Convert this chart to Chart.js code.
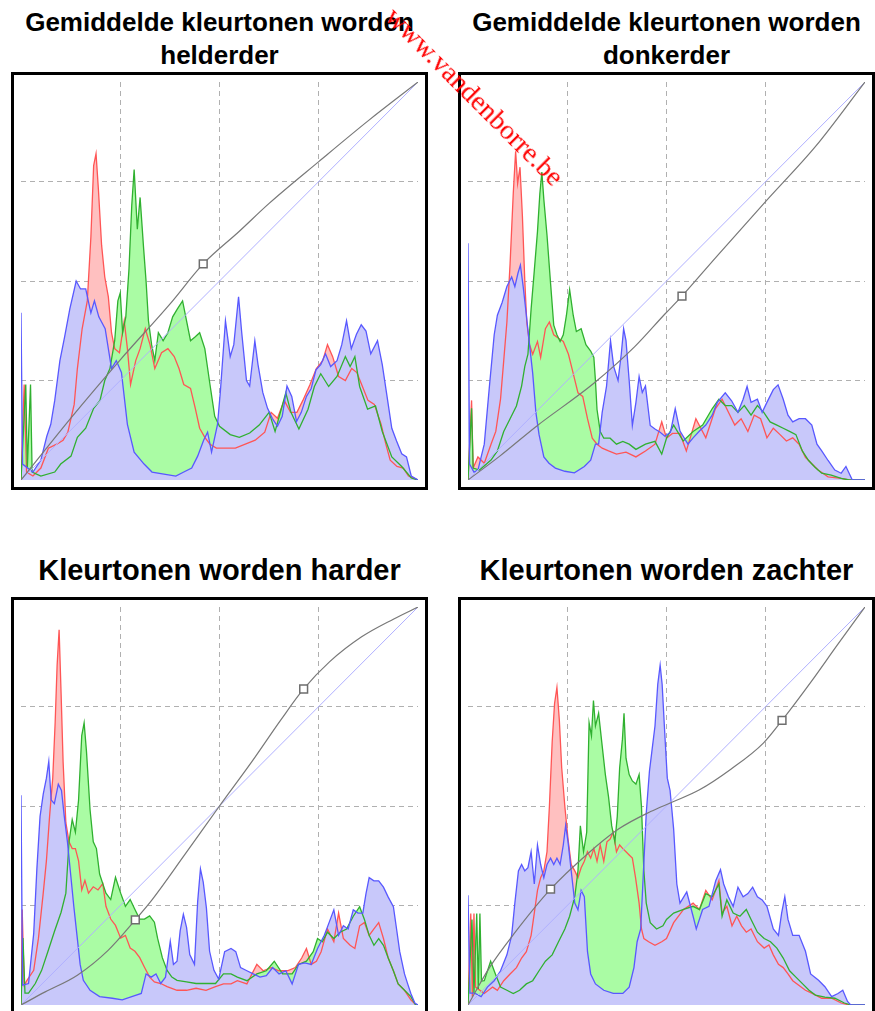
<!DOCTYPE html>
<html>
<head>
<meta charset="utf-8">
<script src="https://cdn.jsdelivr.net/npm/chart.js@4.4.1/dist/chart.umd.min.js"></script>
<style>
  html, body { margin: 0; padding: 0; background: #fff; overflow: hidden; }
  body { width: 875px; height: 1011px; position: relative; font-family: "Liberation Sans", Arial, sans-serif; }
  .titel { position: absolute; width: 417px; text-align: center; font-weight: bold; font-size: 26px; line-height: 33px; color: #000; }
  .titel.groot { font-size: 29px; }
  .kader { position: absolute; border: 3px solid #000; width: 411px; height: 412px; }
  .kader canvas { display: block; }
  .watermerk { position: absolute; left: 390px; top: -4px; z-index: 5; font-family: "Liberation Serif", "Times New Roman", serif;
               font-size: 28px; color: #f00; white-space: nowrap; transform-origin: 0 50%; transform: rotate(45deg); }
</style>
</head>
<body>

<div class="titel" style="left:11px; top:6px">Gemiddelde kleurtonen worden<br>helderder</div>
<div class="titel" style="left:458px; top:6px">Gemiddelde kleurtonen worden<br>donkerder</div>
<div class="titel groot" style="left:11px; top:554px">Kleurtonen worden harder</div>
<div class="titel groot" style="left:458px; top:554px">Kleurtonen worden zachter</div>

<div class="kader" style="left:11px; top:72px"><canvas id="grafiek1" width="411" height="412"></canvas></div>
<div class="kader" style="left:458px; top:72px"><canvas id="grafiek2" width="411" height="412"></canvas></div>
<div class="kader" style="left:11px; top:597px"><canvas id="grafiek3" width="411" height="412"></canvas></div>
<div class="kader" style="left:458px; top:597px"><canvas id="grafiek4" width="411" height="412"></canvas></div>

<div class="watermerk">www.vandenborre.be</div>

<script>
// Histogrammen: [toonwaarde %, hoogte %]
const p1Red = [[0,0],[0.8,24],[1.4,2],[3,1],[5,3],[6.9,8],[9,9],[10.6,10],[11.8,12],[13.4,19],[14.2,28],[15.4,38],[16.7,45],[17.6,61],[18.3,79],[18.9,82],[19.5,73],[20.3,59],[21.1,51],[22,46],[22.8,37],[23.6,33],[24.8,32],[26,40],[26.8,33],[27.6,24],[28.9,30],[30,33],[31.3,38],[32.5,34],[33.7,28],[35.4,32],[37,33],[38.6,31],[39.8,28],[41,24],[42.7,23],[43.9,18],[45,13],[46.3,10.7],[47.6,9],[49.2,8],[51.6,8],[54,8],[56.5,9],[59,10],[61.4,12],[63,17],[64.6,15.5],[66.3,20],[67.9,17],[69.5,17],[71,20],[72.8,24],[74.4,28],[76,30],[77.2,34],[78.5,31],[80,26],[81.7,25],[83.3,28],[84.6,27],[85.8,24],[87.4,20],[89,19],[90.7,14],[91.9,9],[93,5],[94.7,3.4],[96.3,3],[97.6,1],[100,0]];
const p1Green = [[0,0],[1.2,24],[1.6,3],[2.4,24],[2.8,2],[5,1],[8.5,2],[10,4],[12.6,6],[14.2,10.7],[16.3,13],[18.3,18],[19.9,20],[21.1,25],[22.4,28],[23.6,35],[24.4,45],[25,47],[25.6,37],[26.4,41],[27.2,53],[27.9,69],[28.5,78],[29.3,63],[30,71],[30.9,58],[31.5,50],[32.1,40],[32.9,34],[33.7,30],[34.6,37],[35.8,35],[37,37],[38.2,41],[39.4,43],[40.7,45],[41.5,41],[42.7,35],[43.9,36],[45,37],[46.3,33],[47.6,24],[48.8,16],[50,13.5],[52.7,11.4],[55,10.7],[57.6,11.8],[60,13.8],[62.5,17],[64,12.2],[66.7,21.9],[68,17],[70,12.8],[72.3,17.8],[73.9,23.5],[75.5,26.7],[77.5,23.5],[79.6,26],[81.7,31],[82.9,28.5],[84.1,31],[85.3,23.5],[87.3,17.8],[89.3,18.6],[91,12.2],[93.4,5.8],[95.9,3.4],[98.3,0.5],[100,0]];
const p1Blue = [[0,42],[0.4,4],[3,2],[5,5],[6.5,11],[7.5,14],[8.5,20],[9.8,30],[11,36],[12.3,43],[13.9,50],[15,48],[16.3,48],[17.6,42],[18.5,45],[19.6,41],[21.2,38],[22.8,28],[24,30],[25.3,27],[26.8,14],[28.5,7],[31,4],[33,2],[36,1.5],[39,1],[41,2],[43,3],[44.5,6],[46,10],[47,12],[48,7],[49.5,14],[50.2,22],[51.5,40],[52.7,31],[53.6,34],[54.8,46],[55.6,37],[56.8,25],[57.6,23.6],[58.9,35],[59.7,29],[60.9,22],[62.1,18],[63.3,15.5],[64.6,13.5],[65.8,16],[67,23.6],[68.2,21],[69.4,14.7],[70.6,17],[71.9,21],[73.1,23],[74.3,27.7],[75.5,29],[76.7,31.7],[78,28.5],[79.6,30],[80.8,34],[82,40],[83.2,33],[84.5,36.6],[85.7,39],[86.9,37.4],[88.1,31.7],[89.8,35],[91,29],[92.2,21],[93.4,13],[94.6,9.8],[95.9,6.6],[97.1,5.8],[98.3,1],[100,0]];
const p1Curve = [[0,0],[12.5,15.5],[25,30.2],[37.5,44.2],[45.9,54.3],[55,62.5],[62.5,69.5],[75,80],[87.5,90.3],[100,100]];
const p1Handles = [[45.9,54.3]];

const p2Red = [[0,0],[0.9,20],[1.3,3],[2.5,5.8],[4.1,4.2],[5.8,9],[7,12.2],[8.2,20.4],[9,30],[9.8,39.7],[10.6,54.3],[11.4,72],[12,82.6],[12.5,74.5],[13.1,78.6],[13.7,66.4],[14.3,50.2],[14.8,39.7],[15.5,34],[16.3,31.6],[17.5,34.8],[18.3,30.8],[19.5,38],[20.5,39.7],[21.6,36.5],[22.8,35.6],[24,34.8],[25.3,31.6],[26.5,26.8],[27.7,21.9],[28.9,21],[30.1,15.4],[31.3,10.5],[32.5,9],[33.8,8],[35.4,7.3],[37.4,6.5],[39.8,7],[42.3,5.8],[44.7,7.3],[47.1,9],[48.8,14.6],[50,10.5],[51.5,11.7],[53.4,11.7],[55,7.3],[57.4,15.4],[59.9,10.6],[62.3,17.9],[64,20.3],[65.6,17],[67.2,13.8],[68.8,15.4],[70.5,12.2],[72.1,16.3],[73.7,15.4],[75.3,10.6],[76.9,13],[78.6,11.4],[80.2,9.8],[81.8,10.6],[83.4,9],[85,5.7],[86.6,4.1],[88.2,2.5],[90.7,0.8],[94,0.4],[96,0],[100,0]];
const p2Green = [[0,0],[0.9,18],[1.3,3],[2.9,2.5],[5.8,5],[7.4,7.3],[9,12.2],[10.6,15.4],[12.2,18.6],[13.5,23.6],[14.3,28.5],[15.1,31.6],[15.9,43],[16.7,52.6],[17.5,62.4],[18.1,72],[18.6,77.4],[19.1,70.5],[19.9,61.5],[20.8,49.4],[21.6,38.9],[22.4,36.5],[23.2,34.8],[24,36.5],[24.8,41.4],[25.6,47.8],[26.5,41.4],[27.3,37.3],[28.5,38],[29.7,34],[30.9,32.4],[31.7,30.8],[32.1,25],[32.5,17.7],[33.3,12.2],[34.2,10.5],[35.8,10.5],[37.4,9],[39,9.7],[40.6,9],[42.3,7.7],[44.7,9],[47.1,9.7],[48.8,6.5],[50,10.5],[51.8,13.8],[54.2,9.8],[56.7,12.2],[59.1,13.8],[61.5,17.9],[63.2,20.3],[64.8,18.7],[66.4,18.7],[68,17],[69.6,18.7],[71.3,16.3],[72.9,18.7],[74.5,17],[76.1,14.6],[77.8,13.8],[79.4,13],[81,12.2],[82.6,11.4],[84.2,7.3],[85.8,4.9],[87.4,3.2],[89.1,1.7],[91.5,1.2],[94,0.4],[96,0],[100,0]];
const p2Blue = [[0,59.5],[0.4,4],[1.5,2],[2.5,2.5],[4.1,9],[5.4,23.6],[6.6,36.5],[7.4,41.4],[8.6,44.6],[9.8,48.6],[11,51],[11.8,48.6],[12.6,52],[13.2,54],[13.9,48.6],[14.7,41.4],[15.5,34],[16.3,26.8],[17.1,17],[17.9,11.4],[19.1,5.8],[20.4,4.2],[22,3],[24.4,2.2],[26.8,1.8],[29.3,3.4],[30.9,5],[32.1,9],[32.9,9],[33.8,17],[34.9,23.6],[35.9,35],[36.7,28.5],[37.8,25],[38.6,31.6],[39.2,38],[39.8,35],[40.6,25],[41.4,13.7],[42.3,19.5],[43.1,26],[43.9,22],[44.7,23.6],[45.9,13.7],[47.1,12.8],[48.4,12],[49.6,11],[51,12],[52.2,17.9],[53.4,12.3],[55.4,9],[56.7,10.6],[58.3,12.3],[59.9,13.8],[61.5,16.3],[62.8,19.5],[64.8,21.9],[66.4,19.9],[68,17],[69.3,20.3],[70.3,23.5],[71.3,19.5],[72.9,20.3],[74.1,17],[75.3,19.5],[76.9,22.7],[78.1,23.9],[79.4,20.3],[80.6,16.3],[81.8,14.6],[83.4,15.4],[85,15.4],[86.6,13.8],[87.9,9],[89.1,7.3],[90.7,4.9],[92.4,2.5],[94,1.7],[95.2,3.4],[96.8,0],[100,0]];
const p2Curve = [[0,0],[8,6],[17.1,13.4],[31.7,24.3],[42,33.5],[49.6,41.7],[53.9,46.2],[62.5,56],[75,70],[87.7,84],[100,100]];
const p2Handles = [[53.9,46.2]];

const p3Red = [[0,0],[0.3,24],[0.8,5],[1.5,6.2],[3.2,8.7],[4.4,16.8],[5.6,28.1],[6.4,36.2],[7.2,47.4],[8,57.1],[8.6,70.9],[9.1,85.4],[9.6,94.3],[10.1,78.2],[10.6,61.2],[11.3,45.8],[12.1,41],[12.9,39.3],[13.7,39.3],[14.5,36.2],[15.3,28.9],[16.1,31.3],[17,28.1],[18.2,29.7],[19.4,28.9],[20.6,30.5],[21.4,24.8],[22.6,21.6],[23.8,20],[25.1,16.8],[26.3,17.5],[27.5,14.3],[28.7,13.5],[29.9,11.9],[31.1,9.5],[32.4,7],[33.6,5.8],[35.2,5.4],[36.8,4.6],[39.3,3.7],[41.7,3.7],[44.1,4.2],[46.6,3.7],[49,4.6],[51,5.3],[52.9,5.3],[54.5,6.1],[56.9,5.3],[59.4,10.2],[61,8.6],[63,9.4],[65,8.6],[67.1,8.6],[69.1,9.4],[70.7,11.8],[71.9,14.2],[73.1,10.2],[74.4,11],[75.6,13.4],[77.2,19.1],[78.8,15.9],[80,23.1],[81.2,16.7],[82.9,15],[84.1,14.2],[85.3,19.9],[86.5,20.7],[87.7,17.5],[88.9,19.1],[90.1,20.7],[91.3,16.7],[92.5,11.8],[93.8,8.6],[95,5.3],[96.6,3.7],[98.2,1.3],[99.5,0],[100,0]];
const p3Green = [[0,0],[0.5,16.8],[1,3],[1.9,3],[3.6,5.4],[5.2,8.7],[6.8,13.5],[8.4,18.4],[10.1,23.3],[11.3,28.1],[12.1,41],[12.9,46.6],[13.7,43.4],[14.5,51.5],[15.3,67.7],[15.9,70.9],[16.5,63.6],[17.4,49],[18.2,41],[19,39.3],[19.8,32.9],[20.6,30.5],[21.4,28.1],[22.6,26.5],[23.8,32.1],[25.1,28.1],[26.3,24.8],[27.5,26.5],[28.7,24],[29.9,21.6],[31.1,21.6],[32.4,22.4],[33.6,20.8],[34.4,16.8],[35.6,11.9],[36.8,8.7],[38,7],[39.3,6.2],[41.7,5.8],[44.1,5.4],[46.6,5.4],[49,5.4],[51,7.8],[52.9,7.8],[54.5,7],[56.9,6.1],[59.4,7.8],[61.8,8.6],[63.8,11],[65.9,7.8],[68.3,7.8],[69.9,10.2],[71.9,11],[73.6,13.4],[74.7,16.7],[75.9,15.9],[77.2,18.3],[78.8,16.7],[80.4,18.3],[82,19.1],[83.7,22.3],[85.3,24.7],[86.5,21.5],[87.7,17.5],[88.9,15],[90.1,16.7],[91.3,15],[92.5,11.8],[93.8,8.6],[95,5.3],[96.6,3.7],[98.2,2.1],[99.4,0],[100,0]];
const p3Blue = [[0,52.7],[0.4,5],[1.9,5.4],[3.2,18],[4,34.2],[4.8,47.4],[5.6,53],[6.4,57],[7,61.2],[7.6,51.5],[8.4,50.6],[9.4,55.5],[10.2,53.9],[10.9,47.4],[11.7,41],[12.5,32.9],[13.3,24.8],[14.1,17.5],[14.9,10.2],[15.7,6.2],[17.4,3.7],[19.8,2.1],[23,1.7],[25.5,1.3],[27.9,2.1],[30.3,2.9],[31.5,7.8],[32.8,7],[34,7.8],[35.2,5.4],[36.4,7],[37.6,16],[38.4,10.2],[39.3,11],[40.1,18.7],[40.9,22.8],[41.7,19.5],[42.5,12.7],[43.7,10.2],[44.5,26],[45.2,34.2],[45.9,30.9],[46.7,24.4],[47.5,13.5],[48.6,8.7],[49.8,6.5],[51.3,13.4],[52.9,14.2],[54.1,13.4],[55.3,9.4],[56.9,8.6],[58.5,7.8],[60.2,7],[61.8,7.4],[63.4,9.4],[65,7.8],[66.7,8.6],[68.3,5.3],[69.9,10.2],[71.5,10.6],[73.1,10.2],[74.7,14.2],[76.4,17.5],[77.6,20.7],[78.8,23.9],[80,17.5],[81.2,19.9],[82.4,19.1],[83.7,23.9],[84.9,23.1],[86.1,23.1],[86.9,28],[87.7,32],[88.9,31.2],[90.1,31.2],[91.3,29.6],[92.5,27.1],[93.8,24.7],[94.6,19.1],[95.4,13.4],[96.6,7.8],[97.4,5.3],[98.2,2.9],[99.2,0.5],[100,0]];
const p3Curve = [[0,0],[6.1,3.3],[14.2,7.5],[22,13.8],[28.8,21.4],[33,26.4],[41.2,37.7],[50,50],[58.2,61.2],[65.5,71.7],[71.2,79.4],[77.7,86.2],[85.8,92.5],[93.9,97],[100,100]];
const p3Handles = [[28.8,21.4],[71.2,79.4]];

const p4Red = [[0,0],[0.7,23],[1.1,2],[1.5,23],[1.9,4.5],[4.1,2.9],[6.2,4.5],[7.4,3.7],[9,6.1],[10.6,7.8],[12.2,9.4],[13.5,11.8],[14.7,13.4],[15.9,17.5],[16.7,23.1],[17.5,28.8],[18.3,32],[19.1,33.7],[19.9,38.5],[20.5,49.8],[21.2,66],[21.8,75.7],[22.4,79.8],[23,71.7],[23.6,59.6],[24.4,49.8],[25.2,41.7],[26,35.3],[26.9,33.7],[27.7,32],[28.5,34.5],[29.3,36.1],[30.1,38.5],[30.9,36.9],[31.7,39.3],[32.5,36.1],[33.3,40.2],[34.2,36.1],[35,41],[35.8,41.7],[36.6,43.4],[37.4,38.5],[38.2,40.2],[39,39.3],[39.8,38.5],[40.6,37.7],[41.4,36.9],[42.2,32],[43.1,25.6],[43.7,19.1],[44.3,16.7],[45.5,15.9],[47.1,15],[48.8,15.9],[50,16.7],[51.8,20.7],[54.3,24],[56.7,25.6],[58.3,24],[59.9,28.8],[61.5,26.4],[63.2,31.2],[64,23.1],[65.2,24.8],[66.5,19.9],[67.7,22.3],[68.9,19.9],[70.1,18.3],[71.3,19.1],[72.9,15.9],[74.6,14.3],[75.8,15.1],[76.9,12.6],[78.2,10.2],[79.4,9.4],[80.6,7.8],[81.8,6.1],[83.4,4.9],[85,3.7],[86.7,2.9],[89.1,1.7],[91.6,1.7],[94,0.5],[96,0],[100,0]];
const p4Green = [[0,0],[1,21.5],[1.5,3],[2.2,23],[2.6,4],[3,23],[3.4,6],[4.1,6.1],[5.7,11],[6.9,7.8],[8.2,4.5],[9.8,3.7],[11.4,2.9],[13,3.7],[14.7,5.3],[16.3,6.1],[17.9,8.6],[19.5,11],[21.2,12.6],[22.8,15.9],[24.4,19.1],[25.6,22.3],[26.9,27.2],[27.7,33.7],[28.3,45],[29.1,38.5],[29.9,43.4],[30.5,70.9],[31.1,67.6],[31.6,76.5],[32.1,70.1],[32.9,73.3],[33.7,66],[34.6,57.9],[35.4,52.3],[36.2,45],[37,41],[37.6,47.4],[38.2,59.6],[38.9,66.8],[39.3,73.3],[39.8,62],[40.6,57.9],[41.4,56.3],[42.3,55.5],[43.1,57.9],[43.7,49.8],[44.3,33.7],[44.9,25.6],[45.9,20.7],[47.5,19.1],[49.1,19.9],[50,21.5],[51.8,23.1],[54.3,24],[56.7,24.8],[58.3,24],[59.9,28],[61.5,27.2],[63.2,30.4],[64,22.3],[65.2,26.4],[66.8,23.1],[68.5,22.3],[70.1,24],[71.3,21.5],[72.9,18.3],[74.6,16.7],[76.2,15.9],[77.8,14.3],[79.4,11.8],[81,8.6],[82.6,7],[84.3,5.3],[85.9,3.7],[87.5,2.5],[89.9,2],[92.4,1.7],[94.8,0.5],[96.5,0],[100,0]];
const p4Blue = [[0,27.6],[0.5,3],[1.7,3],[3.3,2.1],[4.9,4.5],[6.6,6.1],[8.2,8.6],[9.8,12.6],[11,17.5],[11.8,25.6],[12.7,33.7],[13.5,35.3],[14.3,33.7],[15.1,34.5],[15.9,38.5],[16.7,30.4],[17.5,40.2],[18.3,35.3],[19.1,32],[19.9,35.3],[20.8,36.9],[21.6,35.3],[22.4,36.9],[23.2,35.3],[24,40.2],[24.6,45.1],[25.2,41],[26,33.7],[26.9,25.6],[27.7,23.9],[28.5,28.8],[29.3,27.2],[30.1,13.4],[30.9,7.8],[32.1,5.3],[34.2,3.7],[36.6,2.9],[39,2.9],[40.6,4.5],[41.8,9.4],[42.6,15.9],[43.5,19.1],[44,29.6],[44.9,48.2],[45.7,58.7],[46.3,63.6],[47.1,70.1],[47.8,80.6],[48.4,85.4],[48.9,80.6],[49.6,67.6],[50.2,57],[50.9,53.9],[51.8,44.2],[52.6,30.4],[53.4,25.6],[55.1,28.4],[56.7,22.3],[57.5,19.1],[59.1,24],[60.7,24.8],[62.4,31.2],[63.6,34],[64.4,30.4],[65.6,27.2],[66.8,24.8],[68,29.6],[69.3,27.2],[70.5,28],[71.7,29.6],[72.9,27.2],[74.1,26.4],[75.3,24.8],[76.9,19.1],[78.2,17.5],[79,23.1],[79.8,27.2],[80.6,21.5],[81.8,17.5],[83.4,17.5],[85,13.5],[86.3,7.8],[88.3,6.2],[89.9,4.6],[91.6,2.1],[93.2,2.9],[94.4,3.7],[95.6,0.9],[96.4,0],[100,0]];
const p4Curve = [[0,0],[5.4,9.4],[11.9,18.3],[20.8,29.1],[29.8,37.7],[37.9,44.2],[46,48.6],[51.5,51],[58.2,54],[66.3,59.3],[74.4,65.8],[79.1,71.5],[86.5,81.3],[93,90.4],[100,100]];
const p4Handles = [[20.8,29.1],[79.1,71.5]];

const diagonal = [[0,0],[100,100]];

// Kleuren van de kanalen
const kleuren = {
    redFill: 'rgb(255,192,192)', redLine: 'rgb(255,85,85)',
    greenFill: 'rgb(170,252,164)', greenLine: 'rgb(48,176,48)',
    blueFill: 'rgb(200,200,250)', blueLine: 'rgb(88,88,255)',
    curve: 'rgb(120,120,120)', diagonal: 'rgb(176,176,255)', grid: 'rgb(176,176,176)'
};

function toPoints(pairs) {
    return pairs.map(p => ({ x: p[0], y: p[1] }));
}

function fillSet(pairs, color, order) {
    return { data: toPoints(pairs), fill: 'origin', backgroundColor: color, borderColor: 'rgba(0,0,0,0)', borderWidth: 0, pointRadius: 0, order: order };
}

function lineSet(pairs, color, width, order) {
    return { data: toPoints(pairs), fill: false, borderColor: color, borderWidth: width, pointRadius: 0, order: order };
}

function gridColor(ctx) {
    if (ctx.tick && (ctx.tick.value === 0 || ctx.tick.value === 100)) return 'rgba(0,0,0,0)';
    return kleuren.grid;
}

// Een paneel tekenen: histogrammen, diagonaal, tooncurve en ankerpunten
function drawPanel(canvasId, red, green, blue, curve, handles) {
    const ctx = document.getElementById(canvasId).getContext('2d');
    const curveSet = lineSet(curve, kleuren.curve, 1.2, 2);
    curveSet.cubicInterpolationMode = 'monotone';

    return new Chart(ctx, {
        type: 'line',
        data: {
            datasets: [
                fillSet(red, kleuren.redFill, 10),
                fillSet(green, kleuren.greenFill, 9),
                fillSet(blue, kleuren.blueFill, 8),
                lineSet(red, kleuren.redLine, 1.3, 7),
                lineSet(green, kleuren.greenLine, 1.3, 6),
                lineSet(blue, kleuren.blueLine, 1.3, 5),
                lineSet(diagonal, kleuren.diagonal, 1, 4),
                curveSet,
                {
                    data: toPoints(handles), showLine: false, pointStyle: 'rect', pointRadius: 5.5,
                    pointBackgroundColor: '#fff', pointBorderColor: 'rgb(110,110,110)', pointBorderWidth: 1.5, order: 1
                }
            ]
        },
        options: {
            responsive: false,
            animation: false,
            events: [],
            layout: { padding: 0 },
            plugins: { legend: { display: false }, tooltip: { enabled: false } },
            scales: {
                x: {
                    type: 'linear', min: 0, max: 100,
                    ticks: { display: false, stepSize: 25 },
                    grid: { drawTicks: false, color: gridColor },
                    border: { display: false, dash: [5, 4] },
                    afterFit: scale => { scale.height = 0; }
                },
                y: {
                    type: 'linear', min: 0, max: 100,
                    ticks: { display: false, stepSize: 25 },
                    grid: { drawTicks: false, color: gridColor },
                    border: { display: false, dash: [5, 4] },
                    afterFit: scale => { scale.width = 0; }
                }
            }
        }
    });
}

drawPanel('grafiek1', p1Red, p1Green, p1Blue, p1Curve, p1Handles);
drawPanel('grafiek2', p2Red, p2Green, p2Blue, p2Curve, p2Handles);
drawPanel('grafiek3', p3Red, p3Green, p3Blue, p3Curve, p3Handles);
drawPanel('grafiek4', p4Red, p4Green, p4Blue, p4Curve, p4Handles);
</script>
</body>
</html>
